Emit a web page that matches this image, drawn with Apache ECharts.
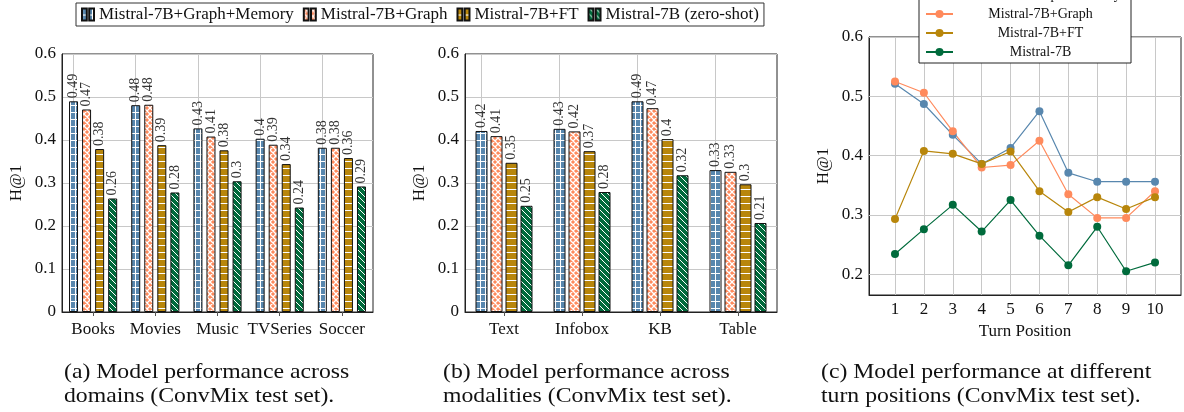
<!DOCTYPE html>
<html>
<head>
<meta charset="utf-8">
<script src="https://cdn.jsdelivr.net/npm/echarts@6.0.0/dist/echarts.min.js"></script>
<style>
  html, body { margin: 0; padding: 0; background: #fff; }
  #chart { width: 1184px; height: 412px; }
</style>
</head>
<body>
<div id="chart"></div>
<script>
// (a) domains
var domains = ['Books', 'Movies', 'Music', 'TVSeries', 'Soccer'];
var domainMem = [0.490, 0.481, 0.427, 0.403, 0.382];
var domainGraph = [0.471, 0.482, 0.408, 0.389, 0.382];
var domainFt = [0.379, 0.388, 0.376, 0.344, 0.358];
var domainZero = [0.264, 0.278, 0.304, 0.243, 0.292];

// (b) modalities
var modalities = ['Text', 'Infobox', 'KB', 'Table'];
var modMem = [0.421, 0.426, 0.490, 0.330];
var modGraph = [0.409, 0.420, 0.474, 0.326];
var modFt = [0.347, 0.374, 0.402, 0.297];
var modZero = [0.247, 0.279, 0.318, 0.207];

// (c) turn positions
var turns = [1, 2, 3, 4, 5, 6, 7, 8, 9, 10];
var turnMem = [0.521, 0.487, 0.435, 0.386, 0.413, 0.475, 0.371, 0.356, 0.356, 0.356];
var turnGraph = [0.525, 0.506, 0.441, 0.380, 0.384, 0.425, 0.335, 0.295, 0.295, 0.340];
var turnFt = [0.293, 0.408, 0.403, 0.386, 0.407, 0.340, 0.305, 0.330, 0.310, 0.330];
var turnZero = [0.234, 0.276, 0.317, 0.272, 0.325, 0.265, 0.215, 0.280, 0.205, 0.220];
var turnTicks = [0.2, 0.3, 0.4, 0.5, 0.6];

var barNames = ['Mistral-7B+Graph+Memory', 'Mistral-7B+Graph', 'Mistral-7B+FT', 'Mistral-7B (zero-shot)'];
var lineNames = ['Mistral-7B+Graph+Memory', 'Mistral-7B+Graph', 'Mistral-7B+FT', 'Mistral-7B'];

var FONT = 'Liberation Serif';
var colors = ['#5887ae', '#ff8a5c', '#b8860b', '#006b3c'];

// white hatch patterns like the pgfplots ones
function makePattern(bg, w, h, draw) {
  var c = document.createElement('canvas');
  c.width = w;
  c.height = h;
  var ctx = c.getContext('2d');
  ctx.fillStyle = bg;
  ctx.fillRect(0, 0, w, h);
  ctx.strokeStyle = '#fff';
  ctx.lineWidth = 1;
  ctx.beginPath();
  draw(ctx, w, h);
  ctx.stroke();
  return { image: c, repeat: 'repeat' };
}
var patterns = [
  makePattern(colors[0], 5, 7, function (ctx, w, h) {
    ctx.moveTo(0, 0.5); ctx.lineTo(w, 0.5);
    ctx.moveTo(0.5, 0); ctx.lineTo(0.5, h);
  }),
  makePattern(colors[1], 6, 6, function (ctx, w, h) {
    ctx.lineWidth = 1.3;
    [-w, 0, w].forEach(function (k) {
      ctx.moveTo(k, 0); ctx.lineTo(k + w, h);
      ctx.moveTo(k + w, 0); ctx.lineTo(k, h);
    });
  }),
  makePattern(colors[2], 6, 7, function (ctx, w, h) {
    ctx.moveTo(0, 0.5); ctx.lineTo(w, 0.5);
  }),
  makePattern(colors[3], 6, 6, function (ctx, w, h) {
    [-w, 0, w].forEach(function (k) {
      ctx.moveTo(k, 0); ctx.lineTo(k + w, h);
    });
  })
];

function fmt(v) {
  return String(Number(v.toFixed(2)));
}

var gridMark = {
  silent: true,
  symbol: 'none',
  z: 1,
  label: { show: false },
  lineStyle: { color: '#c8c8c8', width: 1, type: 'solid' }
};

function barSeries(name, data, idx, gridIdx, width, gap, cats) {
  var s = {
    name: name,
    type: 'bar',
    xAxisIndex: gridIdx,
    yAxisIndex: gridIdx,
    data: data,
    barWidth: width,
    barGap: gap,
    z: 3,
    itemStyle: { color: patterns[idx], borderColor: '#111', borderWidth: 1 },
    label: {
      show: true,
      position: 'top',
      rotate: 90,
      align: 'left',
      verticalAlign: 'middle',
      distance: 3,
      fontFamily: FONT,
      fontSize: 14,
      color: '#333',
      formatter: function (p) { return fmt(p.value); }
    }
  };
  // vertical grid lines at the category centres, carried by the first series
  if (idx === 0) {
    s.markLine = Object.assign({
      data: cats.map(function (c, i) { return { xAxis: i }; })
    }, gridMark);
  }
  return s;
}

function lineSeries(idx, values) {
  return {
    name: 'c:' + lineNames[idx],
    type: 'line',
    xAxisIndex: 2,
    yAxisIndex: 2,
    data: turns.map(function (t, i) { return [t, values[i]]; }),
    symbol: 'circle',
    symbolSize: 8,
    z: 3,
    color: colors[idx],
    lineStyle: { width: 1.2, color: colors[idx] },
    itemStyle: { color: colors[idx] }
  };
}

var axisText = { fontFamily: FONT, fontSize: 17, color: '#111' };
var gridLine = { show: true, lineStyle: { color: '#c8c8c8', width: 1 } };

function catAxis(gridIdx, data) {
  return {
    type: 'category',
    gridIndex: gridIdx,
    data: data,
    axisLine: { lineStyle: { color: '#222' } },
    axisTick: { show: true, alignWithLabel: true, length: 4, lineStyle: { color: '#555' } },
    axisLabel: Object.assign({ margin: 9, interval: 0 }, axisText),
    splitLine: { show: false }
  };
}

function barValueAxis(gridIdx) {
  return {
    type: 'value',
    gridIndex: gridIdx,
    min: 0,
    max: 0.6,
    interval: 0.1,
    name: 'H@1',
    nameLocation: 'middle',
    nameGap: 37,
    nameTextStyle: axisText,
    axisLine: { show: true, lineStyle: { color: '#222' } },
    axisTick: { show: false },
    axisLabel: Object.assign({ margin: 6 }, axisText),
    splitLine: gridLine
  };
}

var chart = echarts.init(document.getElementById('chart'), null, { renderer: 'canvas' });

var series = [];
[domainMem, domainGraph, domainFt, domainZero].forEach(function (d, i) {
  series.push(barSeries(barNames[i], d, i, 0, 9, '45%', domains));
});
[modMem, modGraph, modFt, modZero].forEach(function (d, i) {
  series.push(barSeries(barNames[i], d, i, 1, 12, '25%', modalities));
});
// grid lines of (c): the frame does not start on a tick
series.push({
  name: 'grid2',
  type: 'line',
  xAxisIndex: 2,
  yAxisIndex: 2,
  data: [],
  z: 1,
  silent: true,
  markLine: Object.assign({
    data: turns.map(function (t) { return { xAxis: t }; })
      .concat(turnTicks.map(function (v) { return { yAxis: v }; }))
  }, gridMark)
});
[turnMem, turnGraph, turnFt, turnZero].forEach(function (d, i) {
  series.push(lineSeries(i, d));
});

function caption(x, text) {
  return {
    type: 'text',
    x: x,
    y: 360,
    scaleX: 1.13,
    style: { text: text, font: '21px "Liberation Serif"', fill: '#111', lineHeight: 24 }
  };
}

chart.setOption({
  animation: false,
  backgroundColor: '#fff',
  legend: [
    {
      data: barNames,
      left: 76,
      top: 3,
      orient: 'horizontal',
      padding: [3, 5, 3, 5],
      itemGap: 9,
      itemWidth: 12,
      itemHeight: 14,
      icon: 'path://M0,0H4V10H0Z M6,0H10V10H6Z',
      borderColor: '#333',
      borderWidth: 1,
      textStyle: { fontFamily: FONT, fontSize: 17, color: '#111' }
    },
    {
      data: lineNames.map(function (n) { return 'c:' + n; }),
      left: 919,
      top: -17,
      orient: 'vertical',
      padding: [5, 8, 4, 6],
      itemGap: 5,
      itemWidth: 27,
      itemHeight: 10,
      backgroundColor: '#fff',
      borderColor: '#222',
      borderWidth: 1,
      z: 10,
      formatter: function (name) { return '{t|' + name.slice(2) + '}'; },
      textStyle: {
        fontFamily: FONT,
        fontSize: 14,
        color: '#111',
        rich: { t: { width: 165, align: 'center', lineHeight: 14, fontFamily: FONT, fontSize: 14 } }
      }
    }
  ],
  grid: [
    { left: 62, top: 54, width: 311, height: 258, show: true, borderColor: '#222', borderWidth: 1 },
    { left: 465, top: 54, width: 312, height: 258, show: true, borderColor: '#222', borderWidth: 1 },
    { left: 869, top: 37, width: 312, height: 258, show: true, borderColor: '#222', borderWidth: 1 }
  ],
  xAxis: [
    catAxis(0, domains),
    catAxis(1, modalities),
    {
      type: 'value',
      gridIndex: 2,
      min: 0.1,
      max: 10.9,
      name: 'Turn Position',
      nameLocation: 'middle',
      nameGap: 27,
      nameTextStyle: axisText,
      axisLine: { lineStyle: { color: '#222' } },
      axisTick: { show: false },
      axisLabel: Object.assign({ margin: 6, customValues: turns }, axisText),
      splitLine: { show: false }
    }
  ],
  yAxis: [
    barValueAxis(0),
    barValueAxis(1),
    {
      type: 'value',
      gridIndex: 2,
      min: 0.165,
      max: 0.6,
      name: 'H@1',
      nameLocation: 'middle',
      nameGap: 37,
      nameTextStyle: axisText,
      axisLine: { show: true, lineStyle: { color: '#222' } },
      axisTick: { show: false },
      axisLabel: Object.assign({ margin: 6, customValues: turnTicks, formatter: function (v) { return fmt(v); } }, axisText),
      splitLine: { show: false }
    }
  ],
  series: series,
  graphic: [
    caption(64, '(a) Model performance across\ndomains (ConvMix test set).'),
    caption(443, '(b) Model performance across\nmodalities (ConvMix test set).'),
    caption(821, '(c) Model performance at different\nturn positions (ConvMix test set).')
  ]
});
</script>
</body>
</html>
